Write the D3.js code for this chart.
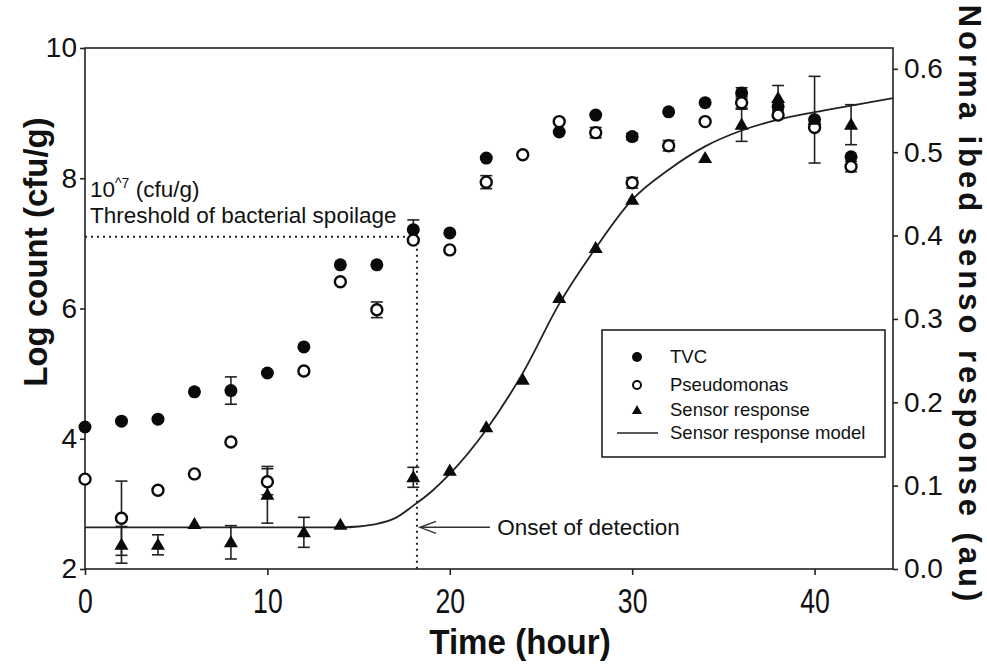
<!DOCTYPE html>
<html>
<head>
<meta charset="utf-8">
<script src="https://cdn.jsdelivr.net/npm/d3@7"></script>
<style>
  body { margin: 0; background: #fff; }
  svg { display: block; font-family: "Liberation Sans", Arial, sans-serif; }
</style>
</head>
<body>
<svg id="chart" width="987" height="664"></svg>
<script>
// sampling times (hour)
const hours = [0, 2, 4, 6, 8, 10, 12, 14, 16, 18, 20, 22, 24, 26, 28, 30, 32, 34, 36, 38, 40, 42];

// log count (cfu/g), left axis
const tvc = [4.18, 4.27, 4.3, 4.72, 4.74, 5.01, 5.41, 6.67, 6.67, 7.21, 7.16, 8.31, null, 8.71, 8.97, 8.64, 9.02, 9.16, 9.31, 9.1, 8.9, 8.33];
const tvcErr = [0, 0, 0, 0, 0.21, 0, 0, 0, 0, 0.15, 0, 0, 0, 0, 0, 0.05, 0, 0, 0.08, 0, 0, 0];
const pseudo = [3.38, 2.78, 3.21, 3.46, 3.95, 3.34, 5.04, 6.41, 5.98, 7.05, 6.9, 7.94, 8.36, 8.87, 8.7, 7.93, 8.5, 8.87, 9.16, 8.97, 8.78, 8.18];
const pseudoErr = [0, 0.57, 0, 0, 0, 0.2, 0, 0, 0.12, 0, 0, 0.1, 0, 0, 0.08, 0.08, 0.08, 0, 0.1, 0, 0, 0.08];

// normalised sensor response (au), right axis
const sensor = [null, 0.029, 0.029, 0.054, 0.032, 0.089, 0.044, 0.053, null, 0.11, 0.118, 0.17, 0.227, 0.325, 0.385, 0.443, null, 0.493, 0.533, 0.565, 0.539, 0.533];
const sensorErr = [0, 0.022, 0.012, 0, 0.02, 0.034, 0.018, 0, 0, 0.012, 0, 0, 0, 0, 0, 0, 0, 0, 0.02, 0.015, 0.052, 0.024];

// sensor response model
const modelT = [0, 14, 15, 16, 17, 18, 19, 20, 22, 24, 26, 28, 30, 32, 34, 36, 38, 40, 42, 44.3];
const modelV = [0.05, 0.05, 0.051, 0.054, 0.061, 0.076, 0.093, 0.114, 0.167, 0.235, 0.318, 0.385, 0.443, 0.479, 0.507, 0.526, 0.539, 0.548, 0.556, 0.565];

const xTicks = [0, 10, 20, 30, 40];
const yTicks = [2, 4, 6, 8, 10];
const y2Ticks = [0, 0.1, 0.2, 0.3, 0.4, 0.5, 0.6];

const thresholdLog = 7.1;
const onsetTime = 18.2;
const onsetLevel = 0.05;

const legendItems = ["TVC", "Pseudomonas", "Sensor response", "Sensor response model"];

const W = 987, H = 664;
const m = { left: 85, right: 94, top: 48, bottom: 95 };
const ink = "#111";

const svg = d3.select("#chart");

const x = d3.scaleLinear().domain([0, 44.3]).range([m.left, W - m.right]);
const y = d3.scaleLinear().domain([2, 10]).range([H - m.bottom, m.top]);
const y2 = d3.scaleLinear().domain([0, 0.625]).range([H - m.bottom, m.top]);

// frame
svg.append("rect")
  .attr("x", m.left).attr("y", m.top)
  .attr("width", W - m.left - m.right).attr("height", H - m.top - m.bottom)
  .attr("fill", "none").attr("stroke", "#222").attr("stroke-width", 1.6);

// x axis
const gx = svg.append("g")
  .attr("transform", `translate(0, ${H - m.bottom})`)
  .call(d3.axisBottom(x).tickValues(xTicks).tickSize(6).tickFormat(d3.format("d")));
gx.select(".domain").remove();
gx.selectAll("line").attr("stroke", "#222").attr("stroke-width", 1.6);
gx.selectAll("text")
  .attr("dy", null).attr("y", 44)
  .attr("transform", "scale(0.74,1)")
  .style("font-size", "36px").attr("fill", ink);

// left axis
const gy = svg.append("g")
  .attr("transform", `translate(${m.left}, 0)`)
  .call(d3.axisLeft(y).tickValues(yTicks).tickSize(5).tickPadding(3));
gy.select(".domain").remove();
gy.selectAll("line").attr("stroke", "#222").attr("stroke-width", 1.6);
gy.selectAll("text").style("font-size", "28px").attr("fill", ink);

// right axis
const gy2 = svg.append("g")
  .attr("transform", `translate(${W - m.right}, 0)`)
  .call(d3.axisRight(y2).tickValues(y2Ticks).tickSize(5).tickPadding(6).tickFormat(d3.format(".1f")));
gy2.select(".domain").remove();
gy2.selectAll("line").attr("stroke", "#222").attr("stroke-width", 1.6);
gy2.selectAll("text").style("font-size", "28px").attr("fill", ink);

// axis titles
svg.append("text")
  .attr("x", 520).attr("y", 654)
  .attr("text-anchor", "middle")
  .attr("transform", "translate(520,0) scale(0.92,1) translate(-520,0)")
  .style("font-size", "36px").style("font-weight", "bold")
  .attr("fill", ink)
  .text("Time (hour)");

svg.append("text")
  .attr("transform", `translate(47, 252) rotate(-90)`)
  .attr("text-anchor", "middle")
  .style("font-size", "33px").style("font-weight", "bold")
  .attr("fill", ink)
  .text("Log count (cfu/g)");

svg.append("text")
  .attr("transform", `translate(959, 305) rotate(90)`)
  .attr("text-anchor", "middle")
  .style("font-size", "31px").style("font-weight", "bold")
  .style("letter-spacing", "4px")
  .attr("fill", ink)
  .text("Norma ibed senso  response (au)");

// threshold + onset guides
svg.append("line")
  .attr("x1", x(0)).attr("x2", x(onsetTime))
  .attr("y1", y(thresholdLog)).attr("y2", y(thresholdLog))
  .attr("stroke", "#222").attr("stroke-width", 2).attr("stroke-dasharray", "2,4");
svg.append("line")
  .attr("x1", x(onsetTime)).attr("x2", x(onsetTime))
  .attr("y1", y(thresholdLog)).attr("y2", y(2))
  .attr("stroke", "#222").attr("stroke-width", 2).attr("stroke-dasharray", "2,4");

const thr = svg.append("g").attr("fill", ink).style("font-size", "22.5px");
const t1 = thr.append("text").attr("x", x(0) + 5).attr("y", y(thresholdLog) - 40);
t1.append("tspan").text("10");
t1.append("tspan").attr("dy", -9).style("font-size", "14px").text("^7");
t1.append("tspan").attr("dy", 9).text(" (cfu/g)");
thr.append("text").attr("x", x(0) + 5).attr("y", y(thresholdLog) - 14)
  .text("Threshold of bacterial spoilage");

// onset arrow
const ax0 = x(onsetTime) + 3, ax1 = x(22.2), ay = y2(onsetLevel);
svg.append("line").attr("x1", ax0).attr("x2", ax1).attr("y1", ay).attr("y2", ay)
  .attr("stroke", "#333").attr("stroke-width", 1.4);
svg.append("path")
  .attr("d", `M${ax0 + 16},${ay - 6} L${ax0},${ay} L${ax0 + 16},${ay + 6}`)
  .attr("fill", "none").attr("stroke", "#333").attr("stroke-width", 1.4);
svg.append("text").attr("x", x(22.6)).attr("y", ay + 8)
  .style("font-size", "22.5px").attr("fill", ink)
  .text("Onset of detection");

// model curve
const modelData = modelT.map((t, i) => ({ t, v: modelV[i] }));
svg.append("path")
  .datum(modelData)
  .attr("d", d3.line().x(d => x(d.t)).y(d => y2(d.v)).curve(d3.curveMonotoneX))
  .attr("fill", "none").attr("stroke", "#222").attr("stroke-width", 1.8);

// error bars
function errorBars(vals, errs, scale) {
  const data = hours.map((t, i) => ({ t, v: vals[i], e: errs[i] }))
    .filter(d => d.v != null && d.e > 0);
  const g = svg.append("g").attr("stroke", "#222").attr("stroke-width", 1.6);
  data.forEach(d => {
    const cx = x(d.t), top = scale(d.v + d.e), bot = scale(d.v - d.e);
    g.append("line").attr("x1", cx).attr("x2", cx).attr("y1", top).attr("y2", bot);
    g.append("line").attr("x1", cx - 6).attr("x2", cx + 6).attr("y1", top).attr("y2", top);
    g.append("line").attr("x1", cx - 6).attr("x2", cx + 6).attr("y1", bot).attr("y2", bot);
  });
}
errorBars(tvc, tvcErr, y);
errorBars(pseudo, pseudoErr, y);
errorBars(sensor, sensorErr, y2);

// markers
const tvcData = hours.map((t, i) => ({ t, v: tvc[i] })).filter(d => d.v != null);
const pseudoData = hours.map((t, i) => ({ t, v: pseudo[i] })).filter(d => d.v != null);
const sensorData = hours.map((t, i) => ({ t, v: sensor[i] })).filter(d => d.v != null);

svg.append("g").selectAll("circle").data(tvcData).join("circle")
  .attr("cx", d => x(d.t)).attr("cy", d => y(d.v)).attr("r", 6.5)
  .attr("fill", "#0a0a0a");

svg.append("g").selectAll("circle").data(pseudoData).join("circle")
  .attr("cx", d => x(d.t)).attr("cy", d => y(d.v)).attr("r", 5.5)
  .attr("fill", "#fff").attr("stroke", "#0a0a0a").attr("stroke-width", 2.4);

const tri = d3.symbol().type(d3.symbolTriangle).size(85);
svg.append("g").selectAll("path").data(sensorData).join("path")
  .attr("transform", d => `translate(${x(d.t)}, ${y2(d.v) + 1})`)
  .attr("d", tri)
  .attr("fill", "#0a0a0a");

// legend
const lg = svg.append("g").attr("transform", "translate(602, 330)");
lg.append("rect").attr("width", 283).attr("height", 127)
  .attr("fill", "#fff").attr("stroke", "#222").attr("stroke-width", 1.6);
const rowY = [27, 55, 80, 103];
lg.append("circle").attr("cx", 35).attr("cy", rowY[0]).attr("r", 5).attr("fill", "#0a0a0a");
lg.append("circle").attr("cx", 35).attr("cy", rowY[1]).attr("r", 4)
  .attr("fill", "#fff").attr("stroke", "#0a0a0a").attr("stroke-width", 2);
lg.append("path").attr("transform", `translate(35, ${rowY[2] + 1})`)
  .attr("d", d3.symbol().type(d3.symbolTriangle).size(45)).attr("fill", "#0a0a0a");
lg.append("line").attr("x1", 15).attr("x2", 56).attr("y1", rowY[3]).attr("y2", rowY[3])
  .attr("stroke", "#222").attr("stroke-width", 1.6);
lg.selectAll("text.item").data(legendItems).join("text")
  .attr("class", "item")
  .attr("x", 68).attr("y", (d, i) => rowY[i] + 6)
  .style("font-size", "18.5px").attr("fill", ink)
  .text(d => d);
</script>
</body>
</html>
